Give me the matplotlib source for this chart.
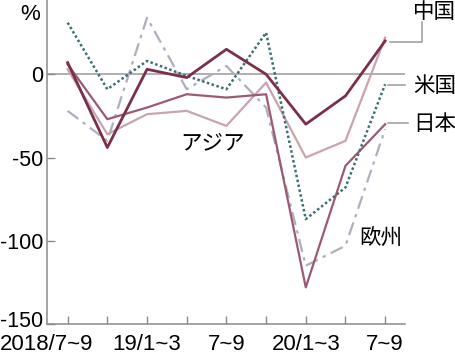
import matplotlib
matplotlib.use('Agg')
import matplotlib.pyplot as plt
from matplotlib.transforms import ScaledTranslation

# 四半期 (2018/7~9 から 2020/7~9)
quarters = ['2018/7~9', '10~12', '19/1~3', '4~6', '7~9', '10~12', '20/1~3', '4~6', '7~9']
tick_labels = ['2018/7~9', '', '19/1~3', '', '7~9', '', '20/1~3', '', '7~9']

# 前年同期比 (%)
china = [7, -44, 3, -2, 15, 0, -30, -13, 20]
usa = [31, -9, 8, -1, -9, 25, -87, -68, -6]
japan = [6, -27, -20, -12, -14, -12, -128, -55, -30]
asia = [3, -36, -24, -22, -31, -5, -50, -40, 22]
europe = [-22, -40, 34, -9, 5, -20, -115, -103, -33]

plt.rcParams['font.family'] = ['Liberation Sans', 'Noto Sans CJK JP']
plt.rcParams['axes.unicode_minus'] = False
JP = ['Noto Sans CJK JP', 'DejaVu Sans']

fig = plt.figure(figsize=(4.56, 3.59), dpi=100)
ax = fig.add_axes([47 / 456, 35 / 359, 358 / 456, 324 / 359])

x = list(range(len(quarters)))
ax.axhline(0, color='#9a9a9a', lw=1.1, zorder=1)

ax.plot(x, europe, color='#aeaebf', lw=1.6, dashes=(6, 2.5, 1.5, 2.5), zorder=2)
ax.plot(x, asia, color='#c9a4ad', lw=1.6, zorder=3)
ax.plot(x, japan, color='#9a5b70', lw=1.6, zorder=4)
ax.plot(x, usa, color='#3d6f72', lw=1.8, ls=(0, (1, 1)), zorder=5)
ax.plot(x, china, color='#7a3048', lw=2.0, zorder=6)

ax.set_xlim(-0.52, 8.5)
ax.set_ylim(-150, 44.6)

ax.set_yticks([0, -50, -100, -150])
ax.set_xticks(x)
ax.set_xticklabels(tick_labels)
ax.tick_params(axis='both', direction='in', color='#8a8a8a', length=6, width=1)
ax.tick_params(axis='y', pad=2.5, labelsize=15.5)
ax.tick_params(axis='x', pad=7, labelsize=16)

# 先頭ラベルは左に寄せる, -150 は少し上へ
lab0 = ax.get_xticklabels()[0]
lab0.set_transform(lab0.get_transform() + ScaledTranslation(-21 / 100, 0, fig.dpi_scale_trans))
ylab = ax.get_yticklabels()[-1]
ylab.set_transform(ylab.get_transform() + ScaledTranslation(0, 5 / 100, fig.dpi_scale_trans))

for s in ['top', 'right']:
    ax.spines[s].set_visible(False)
for s in ['left', 'bottom']:
    ax.spines[s].set_color('#8a8a8a')
    ax.spines[s].set_linewidth(1.1)

fig.text(30 / 456, 1 - 15 / 359, '%', fontsize=16, ha='center', va='center')

# ラベルと引き出し線
lc = '#9a9a9a'
ax.plot([8.12, 8.92, 8.92], [19.3, 19.3, 31.3], color=lc, lw=1.1, clip_on=False)
ax.plot([8.07, 8.5], [-6.6, -6.6], color=lc, lw=1.1, clip_on=False)
ax.plot([8.07, 8.57], [-29.5, -29.5], color=lc, lw=1.1, clip_on=False)

ax.text(8.70, 37.3, '中国', family=JP, fontsize=15.5, va='center', ha='left', clip_on=False)
ax.text(8.70, -7.2, '米国', family=JP, fontsize=15.5, va='center', ha='left', clip_on=False)
ax.text(8.70, -30.0, '日本', family=JP, fontsize=15.5, va='center', ha='left', clip_on=False)
ax.text(3.64, -41.6, 'アジア', family=JP, fontsize=15.5, va='center', ha='center')
ax.text(7.89, -98.8, '欧州', family=JP, fontsize=15.5, va='center', ha='center')

fig.savefig('out.png', dpi=100)
